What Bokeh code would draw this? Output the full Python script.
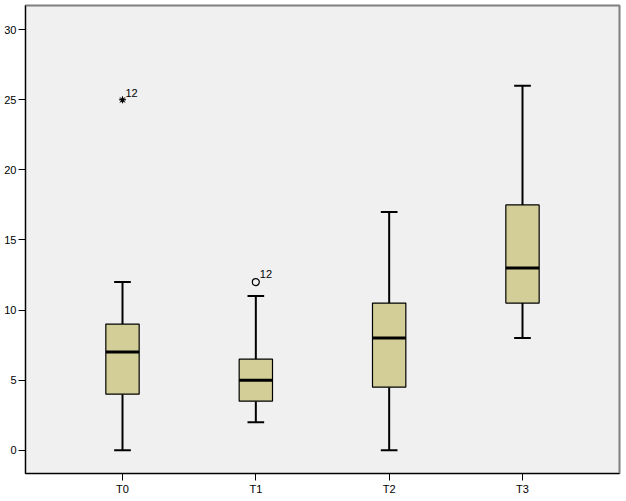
from bokeh.plotting import figure
from bokeh.models import FixedTicker, Range1d, ColumnDataSource
from bokeh.embed import file_html
from bokeh.resources import INLINE
from bokeh.core.properties import value

# Data
categories = ["T0", "T1", "T2", "T3"]
positions = [1, 2, 3, 4]
whisker_low = [0, 2, 0, 8]
q1 = [4, 3.5, 4.5, 10.5]
median = [7, 5, 8, 13]
q3 = [9, 6.5, 10.5, 17.5]
whisker_high = [12, 11, 17, 26]

extreme_pos = [1]
extreme_val = [25]
extreme_lbl = ["12"]
outlier_pos = [2]
outlier_val = [12]
outlier_lbl = ["12"]

y_ticks = [0, 5, 10, 15, 20, 25, 30]

FONT = "Liberation Sans"
BOX_W = 0.25
CAP_W = 0.125

p = figure(width=622, height=497, output_backend="svg", toolbar_location=None,
           x_range=Range1d(0.2725, 4.7275), y_range=Range1d(-1.66, 31.73),
           min_border_top=5, min_border_right=3, min_border_left=25, min_border_bottom=0)
p.background_fill_color = "#F0F0F0"
p.border_fill_color = "white"
p.outline_line_color = "#7F7F7F"
p.outline_line_width = 2
p.xgrid.visible = False
p.ygrid.visible = False

for ax in (p.xaxis[0], p.yaxis[0]):
    ax.axis_line_color = "black"
    ax.axis_line_width = 1
    ax.major_tick_line_color = "black"
    ax.major_tick_out = 7
    ax.major_tick_in = 0
    ax.minor_tick_out = 0
    ax.minor_tick_in = 0
    ax.major_label_text_font = FONT
    ax.major_label_text_font_size = "11px"
    ax.major_label_text_color = "black"
    ax.major_label_standoff = 2

p.yaxis.ticker = FixedTicker(ticks=y_ticks)
p.xaxis.ticker = FixedTicker(ticks=positions)
p.xaxis.major_label_overrides = {pos: c for pos, c in zip(positions, categories)}

src = ColumnDataSource(dict(
    x=positions, lo=whisker_low, q1=q1, med=median, q3=q3, hi=whisker_high,
    xl=[x - CAP_W / 2 for x in positions], xr=[x + CAP_W / 2 for x in positions],
    bl=[x - BOX_W / 2 for x in positions], br=[x + BOX_W / 2 for x in positions],
))

# whiskers
p.segment(x0="x", y0="q3", x1="x", y1="hi", source=src, line_color="black", line_width=2)
p.segment(x0="x", y0="lo", x1="x", y1="q1", source=src, line_color="black", line_width=2)
p.segment(x0="xl", y0="hi", x1="xr", y1="hi", source=src, line_color="black", line_width=2)
p.segment(x0="xl", y0="lo", x1="xr", y1="lo", source=src, line_color="black", line_width=2)

# boxes
p.vbar(x="x", width=BOX_W, bottom="q1", top="q3", source=src,
       fill_color="#D3CE97", line_color="black", line_width=1.2)
# medians
p.segment(x0="bl", y0="med", x1="br", y1="med", source=src, line_color="black", line_width=3)

# extreme (star) and outlier (circle)
p.scatter(extreme_pos, extreme_val, marker="asterisk", size=7, line_color="black", line_width=1)
p.scatter(extreme_pos, extreme_val, marker="star", size=6, fill_color="black", line_color="black",
          line_width=0.5)
p.scatter(outlier_pos, outlier_val, marker="circle", size=7, fill_color=None,
          line_color="black", line_width=1.2)

p.text(extreme_pos, extreme_val, text=extreme_lbl, x_offset=3, y_offset=-7,
       text_font=value(FONT), text_font_size="11px", text_color="black",
       text_baseline="alphabetic")
p.text(outlier_pos, outlier_val, text=outlier_lbl, x_offset=4, y_offset=-8,
       text_font=value(FONT), text_font_size="11px", text_color="black",
       text_baseline="alphabetic")

open("out.html", "w").write(file_html(p, INLINE))
